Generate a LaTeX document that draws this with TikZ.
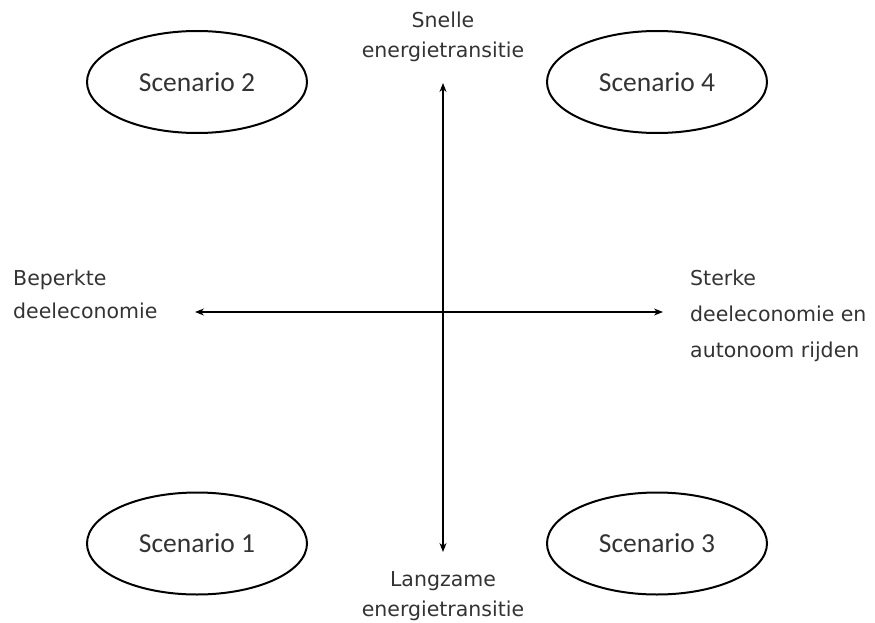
\documentclass[tikz,border=0pt]{standalone}
\usepackage{fontspec}
\setmainfont{DejaVu Sans}
\newfontfamily\scenfont{Carlito}
\usetikzlibrary{shapes.geometric,arrows.meta}
\definecolor{txtgray}{HTML}{333333}
\tikzset{
  scen/.style={ellipse, draw=black, line width=2pt, minimum width=220pt, minimum height=102pt,
    inner sep=0pt, font=\scenfont\fontsize{27.5}{30}\selectfont, text=txtgray},
  axlabel/.style={inner sep=0pt, text=txtgray},
  axis/.style={line width=1.1pt, {Stealth[length=9pt,width=7pt]}-{Stealth[length=9pt,width=7pt]}}
}
\begin{document}
\begin{tikzpicture}[x=1pt,y=-1pt]
\useasboundingbox (0,0) rectangle (875,623);
\node[scen] (s2) at (197,82) {Scenario 2};
\node[scen] (s4) at (657,82) {Scenario 4};
\node[scen] (s1) at (197,543.5) {Scenario 1};
\node[scen] (s3) at (657,543.5) {Scenario 3};
\node[axlabel, anchor=north, align=center, font=\fontsize{20.5}{30}\selectfont] (top) at (443,11.5) {Snelle\\energietransitie};
\node[axlabel, anchor=north, align=center, font=\fontsize{20.5}{30}\selectfont] (bot) at (443,571.5) {Langzame\\energietransitie};
\node[axlabel, anchor=north west, align=left, font=\fontsize{20.5}{33}\selectfont] (left) at (13,269.5) {Beperkte\\deeleconomie};
\node[axlabel, anchor=north west, align=left, font=\fontsize{20.5}{36}\selectfont] (right) at (690,269.5) {Sterke\\deeleconomie en\\autonoom rijden};
\coordinate (vt) at (443,83);
\coordinate (vb) at (443,552);
\coordinate (hl) at (195,312);
\coordinate (hr) at (663,312);
\draw[axis] (vt) -- (vb);
\draw[axis] (hl) -- (hr);
\end{tikzpicture}
\end{document}
